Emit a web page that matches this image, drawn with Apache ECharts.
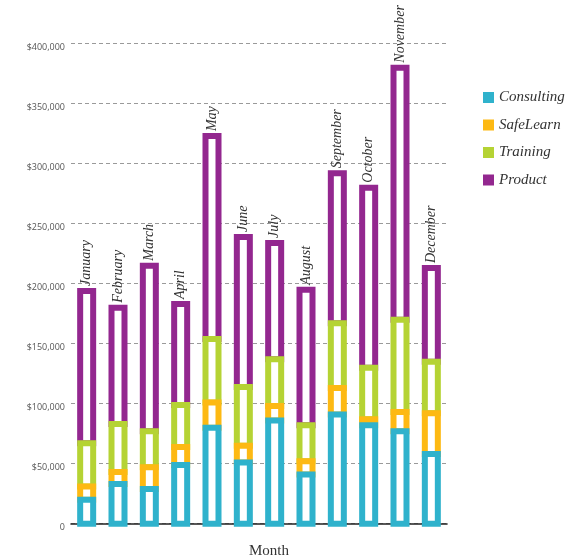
<!DOCTYPE html>
<html>
<head>
<meta charset="utf-8">
<script src="https://cdn.jsdelivr.net/npm/echarts@6/dist/echarts.min.js"></script>
<style>
  html, body { margin: 0; padding: 0; background: #fff; }
  #chart { width: 565px; height: 558px; }
</style>
</head>
<body>
<div id="chart"></div>
<script>
// Monthly revenue by business line (USD)
var months = ['January', 'February', 'March', 'April', 'May', 'June',
              'July', 'August', 'September', 'October', 'November', 'December'];
var consulting = [20000, 33000, 29000, 49000, 80000, 51000, 86000, 41000, 91000, 82000, 77000, 58000];
var safeLearn  = [11000, 10000, 18000, 15000, 21000, 14000, 12000, 11000, 22000,  5000, 16000, 34000];
var training   = [36000, 40000, 30000, 35000, 53000, 49000, 39000, 30000, 54000, 43000, 77000, 43000];
var product    = [127000, 97000, 138000, 84000, 169000, 125000, 97000, 113000, 125000, 150000, 210000, 78000];
var yTicks = [0, 50000, 100000, 150000, 200000, 250000, 300000, 350000, 400000];

var seriesNames = ['Consulting', 'SafeLearn', 'Training', 'Product'];
var seriesData = [consulting, safeLearn, training, product];
var colors = ['#2fb2cc', '#fdb913', '#b5d334', '#93278f'];

var serif = '"Liberation Serif", "DejaVu Serif", serif';
var BAR_W = 13;      // stroke centre-line width of a column
var STROKE = 6;      // frame thickness

// running bases so every segment sits on top of the ones below it
var bases = seriesData.map(function (arr, si) {
  return arr.map(function (v, mi) {
    var b = 0;
    for (var k = 0; k < si; k++) b += seriesData[k][mi];
    return b;
  });
});

function makeRender(si) {
  return function (params, api) {
    var mi = api.value(0);
    var lo = api.value(1);
    var hi = api.value(2);
    var pLo = api.coord([mi, lo]);
    var pHi = api.coord([mi, hi]);
    var cx = pLo[0];
    var rect = {
      type: 'rect',
      shape: { x: cx - BAR_W / 2, y: pHi[1], width: BAR_W, height: pLo[1] - pHi[1] },
      style: { fill: '#ffffff', stroke: colors[si], lineWidth: STROKE }
    };
    if (si !== seriesData.length - 1) return rect;
    // month name stands upright above the column
    return {
      type: 'group',
      children: [rect, {
        type: 'text',
        x: cx,
        y: pHi[1] - STROKE / 2 - 2,
        rotation: Math.PI / 2,
        style: {
          text: months[mi],
          fontFamily: serif,
          fontStyle: 'italic',
          fontSize: 14,
          fill: '#333',
          align: 'left',
          verticalAlign: 'middle'
        }
      }]
    };
  };
}

// drawn top layer first so lower layers' frames sit over the joints
var series = seriesNames.map(function (name, si) {
  return {
    name: name,
    type: 'custom',
    z: 10 - si,
    renderItem: makeRender(si),
    itemStyle: { color: colors[si] },
    encode: { x: 0, y: [1, 2] },
    data: seriesData[si].map(function (v, mi) {
      return [mi, bases[si][mi], bases[si][mi] + v];
    })
  };
});

var chart = echarts.init(document.getElementById('chart'), null, { renderer: 'canvas' });
chart.setOption({
  animation: false,
  backgroundColor: '#ffffff',
  grid: { left: 71, right: 118, top: 43.7, bottom: 34.3, containLabel: false, outerBoundsMode: 'none' },
  legend: {
    orient: 'vertical',
    left: 483,
    top: 90,
    padding: 0,
    itemWidth: 11,
    itemHeight: 11,
    itemGap: 12.5,
    icon: 'rect',
    textStyle: { fontFamily: serif, fontStyle: 'italic', fontSize: 15, color: '#333' },
    data: seriesNames.map(function (n, i) {
      return { name: n, itemStyle: { color: colors[i], borderWidth: 0 } };
    })
  },
  xAxis: {
    type: 'category',
    data: months,
    name: 'Month',
    nameLocation: 'middle',
    nameGap: 20,
    nameTextStyle: { fontFamily: serif, fontSize: 15, color: '#333', padding: [0, 0, 0, 20] },
    axisLine: { lineStyle: { color: '#222', width: 1.6 } },
    axisTick: { show: false },
    axisLabel: { show: false }
  },
  yAxis: {
    type: 'value',
    min: yTicks[0],
    max: yTicks[yTicks.length - 1],
    interval: yTicks[1] - yTicks[0],
    axisLine: { show: false },
    axisTick: { show: false },
    splitLine: { lineStyle: { color: '#9a9a9a', type: [4, 3], width: 1 } },
    axisLabel: {
      margin: 6,
      fontFamily: '"Open Sans", "Noto Sans", sans-serif',
      fontSize: 9,
      color: '#555',
      verticalAlign: 'top',
      lineHeight: 8,
      formatter: function (v) {
        return v === 0 ? '0' : '$' + v.toLocaleString('en-US');
      }
    }
  },
  series: series
});
</script>
</body>
</html>
